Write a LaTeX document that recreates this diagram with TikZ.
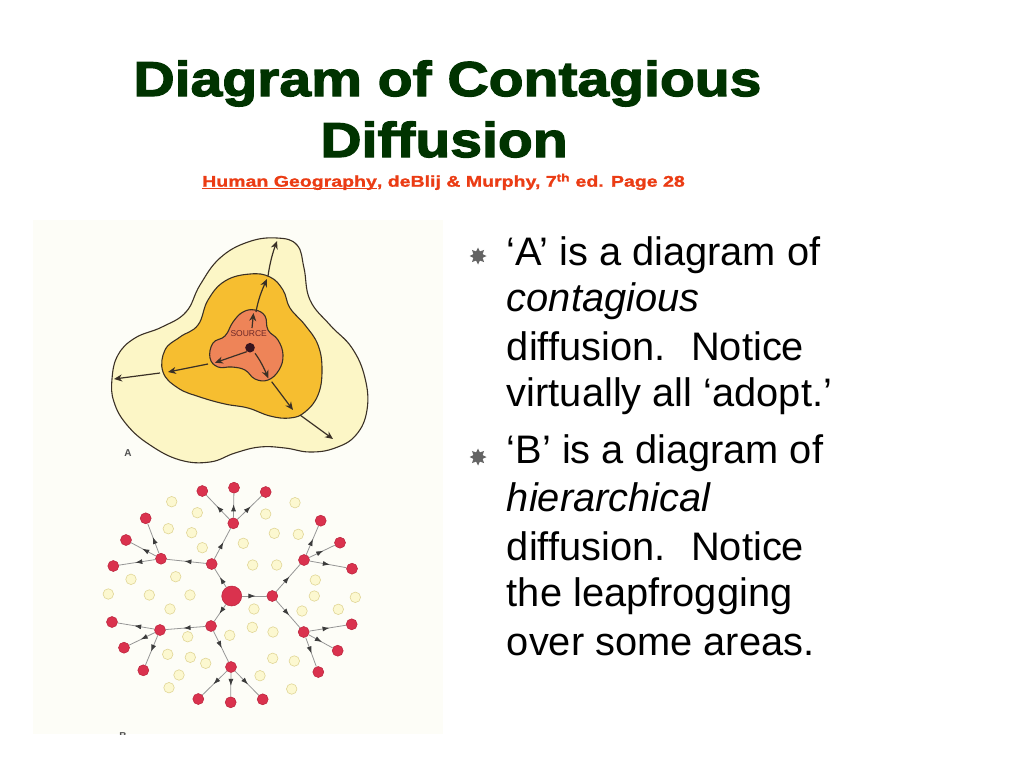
\documentclass[tikz,border=0pt]{standalone}
\usepackage{fontspec}
\setmainfont{Liberation Sans}
\newfontfamily\titlefont[FakeStretch=1.165,FakeBold=2.6]{Liberation Sans Bold}
\newfontfamily\subfont[FakeStretch=1.26,FakeBold=1.2]{Liberation Sans Bold}
\usetikzlibrary{arrows.meta,shapes.geometric,decorations.markings}
\definecolor{titlegreen}{RGB}{0,51,0}
\definecolor{subred}{RGB}{235,60,20}
\definecolor{bulletgray}{RGB}{100,100,100}
\definecolor{panelbg}{RGB}{253,253,247}
\definecolor{outerfill}{RGB}{252,246,198}
\definecolor{midfill}{RGB}{246,190,48}
\definecolor{innerfill}{RGB}{238,132,88}
\definecolor{lineA}{RGB}{58,48,38}
\definecolor{sourcetext}{RGB}{110,40,40}
\definecolor{sourcedot}{RGB}{55,20,30}
\definecolor{labelgray}{RGB}{80,80,80}
\definecolor{redfill}{RGB}{218,50,78}
\definecolor{reddraw}{RGB}{185,35,60}
\definecolor{yelfill}{RGB}{252,248,208}
\definecolor{yeldraw}{RGB}{225,214,150}
\definecolor{edgegray}{RGB}{150,150,150}
\definecolor{arrowgray}{RGB}{60,60,60}
\newcommand\myul[1]{\setbox0\hbox{#1}\rlap{\rule[-2.2pt]{\wd0}{1.1pt}}\box0}
\tikzset{
  bodyline/.style={anchor=base west, inner sep=0pt, font=\fontsize{39.8}{47.6}\selectfont},
  starbullet/.style={star, star points=8, star point ratio=1.7, fill=bulletgray, minimum size=17pt, inner sep=0pt},
  region/.style={draw=lineA, line width=1.1pt},
  aarrow/.style={draw=lineA, line width=1.2pt, -{Stealth[length=8pt,width=7pt,inset=2.5pt]}},
  rednode/.style={circle, fill=redfill, draw=reddraw, line width=0.5pt, minimum size=11pt, inner sep=0pt},
  bignode/.style={circle, fill=redfill, draw=reddraw, line width=0.5pt, minimum size=20pt, inner sep=0pt},
  yelnode/.style={circle, fill=yelfill, draw=yeldraw, line width=0.6pt, minimum size=10.5pt, inner sep=0pt},
  bedge/.style={draw=edgegray, line width=0.8pt, postaction={decorate},
    decoration={markings, mark=at position 0.55 with {\arrow[arrowgray]{Latex[length=7pt,width=5pt]}}}}
}
\begin{document}
\begin{tikzpicture}[x=1pt,y=-1pt]
\useasboundingbox (0,0) rectangle (1024,768);
\fill[white] (0,0) rectangle (1024,768);

% Title
\node[anchor=base, inner sep=0pt, text=titlegreen, font=\titlefont\fontsize{49}{55}\selectfont] (title1) at (447.5,96) {Diagram of Contagious};
\node[anchor=base, inner sep=0pt, text=titlegreen, font=\titlefont\fontsize{49}{55}\selectfont] (title2) at (444,157) {Diffusion};
\node[anchor=base, inner sep=0pt, text=subred, font=\subfont\fontsize{15.5}{18}\selectfont] (subtitle) at (443.5,186.7) {\myul{Human Geography}, deBlij \& Murphy, 7\textsuperscript{th} ed. Page 28};

% Bullets
\node[starbullet] (star1) at (478,256) {};
\node[starbullet] (star2) at (478,457) {};
\node[bodyline] (l1) at (506.7,265) {‘A’ is a diagram of};
\node[bodyline] (l2) at (506.7,311.7) {\itshape contagious};
\node[bodyline] (l3) at (506.7,360) {diffusion.~ Notice};
\node[bodyline] (l4) at (506.7,406.7) {virtually all ‘adopt.’};
\node[bodyline] (l5) at (506.7,463.3) {‘B’ is a diagram of};
\node[bodyline] (l6) at (506.7,511.7) {\itshape hierarchical};
\node[bodyline] (l7) at (506.7,560) {diffusion.~ Notice};
\node[bodyline] (l8) at (506.7,606.7) {the leapfrogging};
\node[bodyline] (l9) at (506.7,655) {over some areas.};

% Picture panel
\fill[panelbg] (33,220) rectangle (443,734);

% Diagram A
\filldraw[region, fill=outerfill] plot[smooth cycle, tension=0.7] coordinates {
 (112,379) (118,355) (135,338) (162,327) (186,312) (200,285) (220,258) (248,242) (277,238)
 (297,245) (304,268) (310,300) (330,325) (352,348) (365,378) (367,410) (356,435) (335,448)
 (310,452) (285,448) (260,447) (235,453) (210,462) (180,460) (150,445) (127,425) (114,402)};
\filldraw[region, fill=midfill] plot[smooth cycle, tension=0.7] coordinates {
 (163,372) (165,350) (180,337) (198,325) (208,300) (225,281) (250,274) (270,277) (283,290)
 (290,308) (305,325) (318,345) (322,370) (318,395) (305,412) (290,418) (270,416) (248,408)
 (225,404) (200,397) (178,388)};
\filldraw[region, fill=innerfill] plot[smooth cycle, tension=0.7] coordinates {
 (210,358) (213,343) (225,336) (233,322) (243,312) (255,310) (265,316) (268,330) (278,340)
 (283,355) (279,370) (268,380) (255,379) (245,370) (232,367) (218,367)};
\node[inner sep=0pt, text=sourcetext, font=\fontsize{8.5}{10}\selectfont] (source) at (248.7,334) {SOURCE};
\fill[sourcedot] (250,347.7) circle (4.8pt);
% up
\draw[aarrow] (252,328) -- (253.5,313);
\draw[aarrow] (256,312) .. controls (258,300) and (262,290) .. (267,279);
\draw[aarrow] (268,276) .. controls (270,262) and (273,252) .. (277,241);
% lower-left
\draw[aarrow] (246.7,351.7) -- (215,362.7);
\draw[aarrow] (208,364) -- (168,372);
\draw[aarrow] (160,373) -- (114,379);
% lower-right
\draw[aarrow] (255,353.3) .. controls (260,360) and (264,368) .. (268.3,378.3);
\draw[aarrow] (271.7,381.7) -- (293,410);
\draw[aarrow] (300,415) -- (333,439);
\node[inner sep=0pt, text=labelgray, font=\fontsize{10}{12}\selectfont\bfseries] (labelA) at (128,453) {A};

% Diagram B: pale (non-adopting) places
\foreach \x/\y [count=\i] in {171.7/501.7, 197.3/512.7, 295/502.7, 265.7/514, 168.3/528.7, 191.7/532.7,
  274.3/533.3, 298.3/534.3, 202.3/547.7, 243.3/543.3, 252.7/565, 276.7/565, 131/579.3, 175.7/576.7,
  315.3/580, 108.3/594, 149.3/595, 190/595, 314.3/596, 355.3/597.3, 170/609, 254/609, 302/611,
  338.3/609.3, 252.3/627.3, 273/632, 229.7/635.3, 187.7/636.7, 167.7/654.3, 190.3/657.3, 205.7/663.3,
  272.7/658.3, 294.3/661, 179/675, 260/675.7, 169/687.7, 291.7/689}
  \node[yelnode] (y\i) at (\x,\y) {};

% Diagram B: adopters
\node[bignode] (c) at (231.7,596) {};
\node[rednode] (n1) at (211.7,564) {};
\node[rednode] (na) at (233.3,523.3) {};
\node[rednode] (t1) at (202.3,491) {};
\node[rednode] (t2) at (234,487.7) {};
\node[rednode] (t3) at (265.7,492) {};
\node[rednode] (nb) at (161,558.7) {};
\node[rednode] (m1) at (145.7,518.3) {};
\node[rednode] (m2) at (126,540) {};
\node[rednode] (m3) at (113.3,566) {};
\node[rednode] (e1) at (272.3,596) {};
\node[rednode] (ea) at (304,560) {};
\node[rednode] (r1) at (320.7,520.7) {};
\node[rednode] (r2) at (340,542.7) {};
\node[rednode] (r3) at (352,568.7) {};
\node[rednode] (eb) at (303.7,632) {};
\node[rednode] (s1) at (351.7,624.3) {};
\node[rednode] (s2) at (337.7,650.7) {};
\node[rednode] (s3) at (318.3,672) {};
\node[rednode] (w1) at (211,626) {};
\node[rednode] (lh) at (160,630) {};
\node[rednode] (k1) at (112,622) {};
\node[rednode] (k2) at (124,647.7) {};
\node[rednode] (k3) at (143.3,670.3) {};
\node[rednode] (bh) at (231,667) {};
\node[rednode] (b1) at (198.3,699) {};
\node[rednode] (b2) at (230.7,702.3) {};
\node[rednode] (b3) at (262.7,699.3) {};
\foreach \a/\b in {c/n1, n1/na, na/t1, na/t2, na/t3, n1/nb, nb/m1, nb/m2, nb/m3,
  c/e1, e1/ea, ea/r1, ea/r2, ea/r3, e1/eb, eb/s1, eb/s2, eb/s3,
  c/w1, w1/lh, lh/k1, lh/k2, lh/k3, w1/bh, bh/b1, bh/b2, bh/b3}
  \draw[bedge] (\a) -- (\b);

% cut-off label B at the bottom of the picture
\begin{scope}
\clip (33,220) rectangle (443,734);
\node[anchor=base, inner sep=0pt, text=labelgray, font=\fontsize{10}{12}\selectfont\bfseries] (labelB) at (123,739) {B};
\end{scope}
\end{tikzpicture}
\end{document}
